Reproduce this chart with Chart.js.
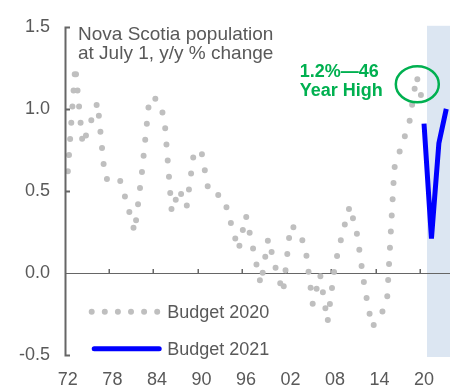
<!DOCTYPE html>
<html>
<head>
<meta charset="utf-8">
<script src="https://cdn.jsdelivr.net/npm/chart.js@4"></script>
<style>
  html, body { margin: 0; padding: 0; background: #fff; }
  #wrap { width: 455px; height: 390px; position: relative; }
</style>
</head>
<body>
<div id="wrap"><canvas id="chart"></canvas></div>
<script>
/* data */
const years = [
  1972, 1973, 1974, 1975, 1976, 1977, 1978, 1979, 1980, 1981,
  1982, 1983, 1984, 1985, 1986, 1987, 1988, 1989, 1990, 1991,
  1992, 1993, 1994, 1995, 1996, 1997, 1998, 1999, 2000, 2001,
  2002, 2003, 2004, 2005, 2006, 2007, 2008, 2009, 2010, 2011,
  2012, 2013, 2014, 2015, 2016, 2017, 2018, 2019, 2020,
];
const budget2020 = [
  0.62, 1.26, 0.78, 0.91, 1.04, 0.58, 0.55, 0.57, 0.42, 0.25,
  0.62, 1.07, 1.06, 0.95, 0.37, 0.51, 0.40, 0.74, 0.74, 0.49,
  0.48, 0.46, 0.30, 0.14, 0.35, 0.14, -0.07, 0.21, 0.03, -0.12,
  0.29, 0.26, 0.16, -0.19, -0.01, -0.30, 0.05, 0.24, 0.41, 0.23,
  -0.09, -0.33, -0.27, -0.18, 0.64, 0.78, 0.91, 1.2, 1.0,
];
const years2021 = [2020, 2021, 2022, 2023];
const budget2021 = [0.91, 0.21, 0.79, 1.0];

const xLabelYears = [1972, 1978, 1984, 1990, 1996, 2002, 2008, 2014, 2020];
const yTicks = [-0.5, 0, 0.5, 1.0, 1.5];

const highYear = 2019;
const highValue = 1.2;
const forecastStart = 2020.4;

const FONT = '"Liberation Sans", Arial, sans-serif';
const TEXT = "#595959";
const AXIS = "#666666";
const GREY = "#bfbfbf";
const BLUE = "#0000ff";
const GREEN = "#00b050";

const decor = {
  id: "decor",
  beforeDatasetsDraw(chart) {
    const { ctx, chartArea: { left, right, top, bottom }, scales: { x, y } } = chart;
    ctx.save();
    // forecast band
    const bx = x.getPixelForValue(forecastStart);
    ctx.fillStyle = "#dce6f2";
    ctx.fillRect(bx, top - 1, right - bx, bottom - top + 3);

    // zero line with its inside ticks
    const y0 = Math.round(y.getPixelForValue(0));
    ctx.fillStyle = AXIS;
    ctx.fillRect(left, y0, right - left, 1);
    xLabelYears.slice(1).forEach((yr) => {
      const px = Math.round(x.getPixelForValue(yr - 0.5));
      ctx.fillRect(px - 0.5, y0 - 4, 1.5, 4);
    });
    ctx.restore();
  },
  afterDatasetsDraw(chart) {
    const { ctx, scales: { x, y } } = chart;
    const cx = x.getPixelForValue(highYear) + 0.7;
    const cy = y.getPixelForValue(highValue - 0.05);
    ctx.save();
    ctx.strokeStyle = GREEN;
    ctx.lineWidth = 2.5;
    ctx.beginPath();
    ctx.ellipse(cx, cy, 21.5, 18, 0, 0, Math.PI * 2);
    ctx.stroke();

    ctx.fillStyle = GREEN;
    ctx.font = "bold 18px " + FONT;
    ctx.textAlign = "left";
    ctx.textBaseline = "alphabetic";
    ctx.fillText(highValue.toFixed(1) + "%\u201446", cx - 117.5, cy - 7);
    ctx.fillText("Year High", cx - 117.5, cy + 12);
    ctx.restore();
  },
  afterDraw(chart) {
    const { ctx, chartArea: { left, top, bottom }, scales: { x, y } } = chart;
    ctx.save();

    // y axis line, placed from the x scale's own left end
    const ax = x.getPixelForValue(x.min);
    ctx.strokeStyle = AXIS;
    ctx.lineWidth = 2;
    ctx.lineCap = "butt";
    ctx.beginPath();
    ctx.moveTo(ax - 0.5, y.getPixelForValue(y.max));
    ctx.lineTo(ax - 0.5, y.getPixelForValue(y.min) + 1);
    yTicks.forEach((v) => {
      if (v === 0) return;
      const py = Math.round(y.getPixelForValue(v)) + 0.5;
      ctx.moveTo(ax - 1.5, py);
      ctx.lineTo(ax + 4, py);
    });
    ctx.stroke();

    ctx.fillStyle = TEXT;
    ctx.textAlign = "left";
    ctx.textBaseline = "alphabetic";
    ctx.font = "19px " + FONT;
    ctx.fillText("Nova Scotia population", left + 12, top + 13);
    ctx.fillText("at July 1, y/y % change", left + 12, top + 32);

    // legend
    const lx = left + 25.7;
    const r1 = top + 285;
    const r2 = top + 322;
    ctx.lineCap = "round";
    ctx.strokeStyle = GREY;
    ctx.lineWidth = 6;
    ctx.setLineDash([0, 13.1]);
    ctx.beginPath();
    ctx.moveTo(lx, r1);
    ctx.lineTo(lx + 66, r1);
    ctx.stroke();
    ctx.setLineDash([]);
    ctx.strokeStyle = BLUE;
    ctx.lineWidth = 5;
    ctx.beginPath();
    ctx.moveTo(lx + 2.5, r2);
    ctx.lineTo(lx + 67.5, r2);
    ctx.stroke();

    ctx.font = "18px " + FONT;
    ctx.textBaseline = "middle";
    ctx.fillText("Budget 2020", lx + 75.5, r1 + 1);
    ctx.fillText("Budget 2021", lx + 75.5, r2 + 1);
    ctx.restore();
  },
};

Chart.register(decor);

new Chart(document.getElementById("chart"), {
  type: "line",
  data: {
    datasets: [
      {
        label: "Budget 2020",
        data: years.map((yr, i) => ({ x: yr, y: budget2020[i] })),
        borderColor: GREY,
        borderWidth: 6,
        borderDash: [0, 16.2],
        borderCapStyle: "round",
        pointRadius: 0,
        tension: 0,
        fill: false,
      },
      {
        label: "Budget 2021",
        data: years2021.map((yr, i) => ({ x: yr, y: budget2021[i] })),
        borderColor: BLUE,
        borderWidth: 5,
        borderJoinStyle: "miter",
        borderCapStyle: "butt",
        pointRadius: 0,
        tension: 0,
        fill: false,
      },
    ],
  },
  options: {
    responsive: true,
    maintainAspectRatio: false,
    animation: false,
    events: [],
    layout: { padding: { top: 15, right: 5, left: 0, bottom: 0 } },
    plugins: {
      legend: { display: false },
      tooltip: { enabled: false },
    },
    scales: {
      x: {
        type: "linear",
        min: 1971.75,
        max: 2023.5,
        afterBuildTicks: (scale) => {
          scale.ticks = xLabelYears.map((v) => ({ value: v }));
        },
        afterFit: (scale) => {
          scale.height = 35;
        },
        grid: { display: false, drawTicks: false },
        border: { display: false },
        ticks: {
          autoSkip: false,
          maxRotation: 0,
          padding: 14,
          color: TEXT,
          font: { family: FONT, size: 18 },
          callback: (v) => String(v).slice(2),
        },
      },
      y: {
        min: -0.5,
        max: 1.5,
        afterFit: (scale) => {
          scale.width = 66;
        },
        grid: { display: false, drawTicks: false },
        border: { display: false },
        ticks: {
          stepSize: 0.5,
          padding: 16,
          color: TEXT,
          font: { family: FONT, size: 18 },
          callback: (v) => v.toFixed(1),
        },
      },
    },
  },
});
</script>
</body>
</html>
